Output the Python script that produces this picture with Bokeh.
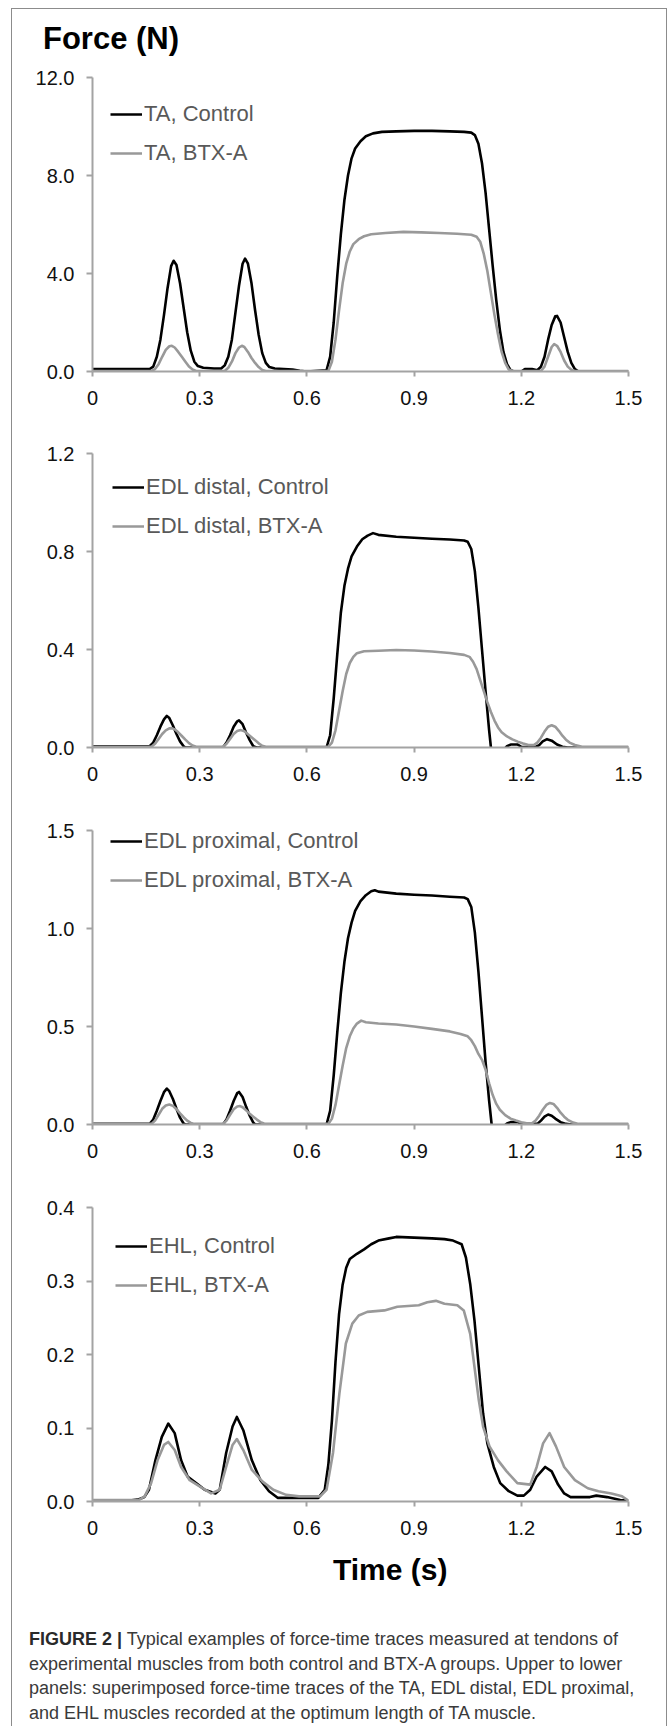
from bokeh.plotting import figure
from bokeh.models import Range1d, FixedTicker, Legend, LegendItem, Div
from bokeh.layouts import column
from bokeh.embed import file_html
from bokeh.resources import INLINE

FONT = "Liberation Sans"
CSS_FONT = "'Liberation Sans', Arial, sans-serif"

# ---------------- data ----------------
X_TICKS = [0, 0.3, 0.6, 0.9, 1.2, 1.5]
X_TICK_LABELS = ["0", "0.3", "0.6", "0.9", "1.2", "1.5"]

# Panel 1 : TA
TA_TICKS = [0, 4, 8, 12]
TA_TICK_LABELS = ["0.0", "4.0", "8.0", "12.0"]
TA_NAMES = ["TA, Control", "TA, BTX-A"]
TA_CTRL_T = [0, 0.16, 0.17, 0.18, 0.19, 0.20, 0.21, 0.22, 0.227, 0.235, 0.245, 0.255, 0.265, 0.275, 0.285,
             0.295, 0.31, 0.34, 0.36, 0.37, 0.38, 0.39, 0.40, 0.41, 0.42, 0.427, 0.435, 0.445, 0.455, 0.465,
             0.475, 0.485, 0.495, 0.51, 0.56, 0.58, 0.60, 0.655, 0.665, 0.675, 0.685, 0.695, 0.705, 0.715,
             0.725, 0.735, 0.75, 0.765, 0.785, 0.81, 0.85, 0.90, 0.95, 1.00, 1.04, 1.06, 1.07, 1.08, 1.09,
             1.10, 1.11, 1.12, 1.13, 1.14, 1.15, 1.16, 1.17, 1.18, 1.20, 1.21, 1.23, 1.245, 1.255, 1.265,
             1.275, 1.285, 1.295, 1.30, 1.31, 1.32, 1.33, 1.34, 1.35, 1.36, 1.5]
TA_CTRL_F = [0.1, 0.1, 0.2, 0.6, 1.3, 2.3, 3.4, 4.3, 4.52, 4.35, 3.6, 2.6, 1.6, 0.85, 0.4,
             0.22, 0.15, 0.12, 0.12, 0.25, 0.6, 1.3, 2.4, 3.5, 4.4, 4.61, 4.4, 3.6, 2.5, 1.5,
             0.75, 0.35, 0.18, 0.12, 0.08, 0.03, 0.0, 0.05, 0.6, 2.0, 3.9, 5.6, 7.0, 8.0,
             8.7, 9.1, 9.4, 9.6, 9.72, 9.78, 9.8, 9.82, 9.82, 9.8, 9.78, 9.75, 9.65, 9.3, 8.5,
             7.3, 5.8, 4.3, 2.9, 1.7, 0.8, 0.3, 0.05, 0.0, 0.0, 0.1, 0.1, 0.05, 0.2, 0.6,
             1.3, 1.9, 2.25, 2.27, 2.0, 1.4, 0.8, 0.35, 0.1, 0.0, 0.0]
TA_BTX_T = [0, 0.165, 0.175, 0.185, 0.195, 0.205, 0.215, 0.222, 0.23, 0.24, 0.25, 0.26, 0.27, 0.28, 0.29,
            0.37, 0.38, 0.39, 0.40, 0.41, 0.418, 0.425, 0.435, 0.445, 0.455, 0.465, 0.475, 0.485, 0.66,
            0.67, 0.68, 0.69, 0.70, 0.71, 0.72, 0.73, 0.745, 0.76, 0.78, 0.82, 0.87, 0.92, 0.97, 1.02,
            1.06, 1.075, 1.085, 1.095, 1.105, 1.115, 1.125, 1.135, 1.145, 1.155, 1.165, 1.175, 1.255,
            1.265, 1.275, 1.285, 1.292, 1.30, 1.31, 1.32, 1.33, 1.34, 1.35, 1.5]
TA_BTX_F = [0.02, 0.02, 0.1, 0.3, 0.6, 0.88, 1.03, 1.05, 0.98, 0.8, 0.6, 0.4, 0.2, 0.08, 0.02,
            0.02, 0.15, 0.4, 0.75, 0.98, 1.05, 1.0, 0.8, 0.55, 0.35, 0.18, 0.06, 0.02, 0.02,
            0.4, 1.3, 2.5, 3.6, 4.4, 4.9, 5.2, 5.4, 5.52, 5.6, 5.65, 5.7, 5.68, 5.65, 5.62,
            5.58, 5.5, 5.3, 4.8, 4.1, 3.2, 2.3, 1.5, 0.8, 0.35, 0.08, 0.02, 0.02,
            0.2, 0.6, 1.0, 1.12, 1.05, 0.8, 0.45, 0.2, 0.07, 0.02, 0.02]

# Panel 2 : EDL distal
EDLD_TICKS = [0, 0.4, 0.8, 1.2]
EDLD_TICK_LABELS = ["0.0", "0.4", "0.8", "1.2"]
EDLD_NAMES = ["EDL distal, Control", "EDL distal, BTX-A"]
EDLD_CTRL_T = [0, 0.16, 0.17, 0.18, 0.19, 0.20, 0.208, 0.215, 0.225, 0.235, 0.245, 0.255, 0.26, 0.365,
               0.375, 0.385, 0.395, 0.405, 0.41, 0.42, 0.43, 0.44, 0.45, 0.46, 0.655, 0.665, 0.675, 0.685,
               0.695, 0.705, 0.715, 0.725, 0.74, 0.755, 0.77, 0.785, 0.80, 0.85, 0.90, 0.95, 1.00, 1.04,
               1.05, 1.06, 1.07, 1.08, 1.09, 1.10, 1.11, 1.115, 1.12, 1.15, 1.16, 1.17, 1.19, 1.20, 1.24,
               1.25, 1.26, 1.272, 1.285, 1.30, 1.315, 1.33, 1.5]
EDLD_CTRL_F = [0.005, 0.005, 0.02, 0.05, 0.085, 0.115, 0.129, 0.12, 0.09, 0.055, 0.025, 0.005, 0.0, 0.0,
               0.02, 0.05, 0.085, 0.107, 0.111, 0.095, 0.06, 0.03, 0.005, 0.0, 0.0, 0.05, 0.2, 0.38,
               0.55, 0.66, 0.73, 0.78, 0.82, 0.85, 0.865, 0.875, 0.868, 0.86, 0.856, 0.852, 0.849, 0.845,
               0.84, 0.81, 0.72, 0.57, 0.4, 0.23, 0.07, 0.0, -0.01, -0.01, 0.005, 0.012, 0.012, 0.003, 0.002,
               0.01, 0.025, 0.034, 0.028, 0.012, 0.003, 0.0, 0.0]
EDLD_BTX_T = [0, 0.165, 0.175, 0.185, 0.195, 0.205, 0.215, 0.222, 0.23, 0.24, 0.25, 0.26, 0.27, 0.28, 0.29,
              0.365, 0.375, 0.385, 0.395, 0.405, 0.415, 0.425, 0.435, 0.445, 0.455, 0.465, 0.475, 0.485,
              0.66, 0.67, 0.68, 0.69, 0.70, 0.71, 0.72, 0.73, 0.74, 0.76, 0.80, 0.85, 0.90, 0.95, 1.00,
              1.04, 1.055, 1.065, 1.075, 1.085, 1.095, 1.105, 1.115, 1.125, 1.135, 1.145, 1.16, 1.175,
              1.19, 1.205, 1.22, 1.235, 1.245, 1.255, 1.265, 1.275, 1.285, 1.295, 1.305, 1.315, 1.325,
              1.335, 1.35, 1.37, 1.5]
EDLD_BTX_F = [0.003, 0.003, 0.015, 0.035, 0.055, 0.07, 0.078, 0.079, 0.074, 0.062, 0.047, 0.032, 0.018, 0.008, 0.003,
              0.003, 0.015, 0.035, 0.055, 0.067, 0.071, 0.066, 0.054, 0.042, 0.03, 0.017, 0.007, 0.003,
              0.003, 0.02, 0.07, 0.15, 0.23, 0.3, 0.345, 0.37, 0.385, 0.393, 0.395, 0.398, 0.396, 0.392, 0.386,
              0.378, 0.37, 0.35, 0.32, 0.275, 0.23, 0.185, 0.145, 0.11, 0.082, 0.062, 0.045, 0.033,
              0.024, 0.016, 0.01, 0.01, 0.02, 0.04, 0.065, 0.085, 0.091, 0.085, 0.068, 0.048, 0.032,
              0.02, 0.01, 0.003, 0.003]

# Panel 3 : EDL proximal
EDLP_TICKS = [0, 0.5, 1.0, 1.5]
EDLP_TICK_LABELS = ["0.0", "0.5", "1.0", "1.5"]
EDLP_NAMES = ["EDL proximal, Control", "EDL proximal, BTX-A"]
EDLP_CTRL_T = [0, 0.16, 0.17, 0.18, 0.19, 0.20, 0.208, 0.215, 0.225, 0.235, 0.245, 0.255, 0.26, 0.365,
               0.375, 0.385, 0.395, 0.405, 0.41, 0.42, 0.43, 0.44, 0.45, 0.455, 0.655, 0.665, 0.675, 0.685,
               0.695, 0.705, 0.715, 0.725, 0.735, 0.75, 0.765, 0.78, 0.79, 0.80, 0.85, 0.90, 0.95, 1.00,
               1.04, 1.05, 1.06, 1.07, 1.08, 1.09, 1.10, 1.11, 1.117, 1.125, 1.15, 1.16, 1.17, 1.19, 1.20,
               1.245, 1.255, 1.265, 1.275, 1.285, 1.295, 1.31, 1.325, 1.34, 1.5]
EDLP_CTRL_F = [0.003, 0.003, 0.025, 0.07, 0.12, 0.165, 0.183, 0.17, 0.13, 0.08, 0.035, 0.005, 0.0, 0.0,
               0.025, 0.07, 0.12, 0.16, 0.166, 0.14, 0.09, 0.045, 0.01, 0.0, 0.0, 0.07, 0.25, 0.47,
               0.67, 0.83, 0.95, 1.03, 1.09, 1.14, 1.17, 1.19, 1.195, 1.188, 1.178, 1.172, 1.168, 1.162,
               1.158, 1.15, 1.11, 0.98, 0.78, 0.55, 0.32, 0.12, 0.0, -0.01, -0.01, 0.005, 0.012, 0.012, 0.003,
               0.003, 0.02, 0.04, 0.051, 0.045, 0.03, 0.012, 0.003, 0.0, 0.0]
EDLP_BTX_T = [0, 0.165, 0.175, 0.185, 0.195, 0.205, 0.215, 0.225, 0.235, 0.245, 0.255, 0.265, 0.275, 0.285,
              0.365, 0.375, 0.385, 0.395, 0.405, 0.413, 0.42, 0.43, 0.44, 0.45, 0.46, 0.47, 0.48, 0.49,
              0.66, 0.67, 0.68, 0.69, 0.70, 0.71, 0.72, 0.73, 0.74, 0.752, 0.765, 0.80, 0.85, 0.90, 0.95,
              1.00, 1.03, 1.05, 1.06, 1.07, 1.08, 1.09, 1.10, 1.11, 1.12, 1.13, 1.14, 1.155, 1.17, 1.185,
              1.20, 1.215, 1.23, 1.24, 1.25, 1.26, 1.27, 1.28, 1.29, 1.30, 1.31, 1.32, 1.33, 1.345, 1.36, 1.5]
EDLP_BTX_F = [0.003, 0.003, 0.02, 0.05, 0.08, 0.097, 0.102, 0.095, 0.078, 0.057, 0.037, 0.02, 0.008, 0.003,
              0.003, 0.02, 0.05, 0.078, 0.092, 0.094, 0.088, 0.072, 0.055, 0.04, 0.025, 0.012, 0.005, 0.003,
              0.003, 0.03, 0.1, 0.2, 0.3, 0.39, 0.45, 0.49, 0.515, 0.53, 0.522, 0.515, 0.51, 0.5, 0.488,
              0.475, 0.462, 0.45, 0.43, 0.4, 0.36, 0.33, 0.28, 0.21, 0.15, 0.105, 0.075, 0.048, 0.03, 0.02,
              0.012, 0.006, 0.006, 0.02, 0.045, 0.075, 0.1, 0.11, 0.105, 0.085, 0.06, 0.04, 0.024, 0.01, 0.003, 0.003]

# Panel 4 : EHL
EHL_TICKS = [0, 0.1, 0.2, 0.3, 0.4]
EHL_TICK_LABELS = ["0.0", "0.1", "0.2", "0.3", "0.4"]
EHL_NAMES = ["EHL, Control", "EHL, BTX-A"]
EHL_CTRL_T = [0, 0.10, 0.13, 0.145, 0.158, 0.176, 0.194, 0.212, 0.23, 0.248, 0.266, 0.29, 0.314, 0.344,
              0.356, 0.374, 0.392, 0.404, 0.422, 0.446, 0.47, 0.494, 0.518, 0.554, 0.632, 0.65, 0.66, 0.67,
              0.68, 0.69, 0.70, 0.71, 0.72, 0.74, 0.76, 0.78, 0.80, 0.83, 0.85, 0.90, 0.95, 0.985, 1.009,
              1.033, 1.045, 1.057, 1.069, 1.081, 1.093, 1.105, 1.123, 1.141, 1.165, 1.189, 1.207, 1.225,
              1.243, 1.267, 1.285, 1.303, 1.32, 1.338, 1.392, 1.41, 1.44, 1.477, 1.5]
EHL_CTRL_F = [0.001, 0.001, 0.003, 0.006, 0.016, 0.056, 0.088, 0.106, 0.093, 0.056, 0.034, 0.025, 0.016, 0.011,
              0.016, 0.066, 0.102, 0.115, 0.097, 0.056, 0.029, 0.014, 0.005, 0.005, 0.005, 0.016, 0.05, 0.11,
              0.19, 0.255, 0.295, 0.318, 0.33, 0.337, 0.343, 0.35, 0.355, 0.358, 0.36, 0.359, 0.358, 0.357, 0.355,
              0.35, 0.332, 0.296, 0.246, 0.183, 0.12, 0.079, 0.047, 0.025, 0.014, 0.008, 0.008, 0.016,
              0.034, 0.047, 0.041, 0.023, 0.011, 0.006, 0.006, 0.008, 0.006, 0.002, 0.001]
EHL_BTX_T = [0, 0.13, 0.146, 0.164, 0.182, 0.2, 0.212, 0.23, 0.248, 0.272, 0.302, 0.332, 0.356, 0.374,
             0.392, 0.404, 0.422, 0.446, 0.476, 0.506, 0.542, 0.578, 0.637, 0.655, 0.673, 0.691, 0.709,
             0.727, 0.745, 0.769, 0.817, 0.853, 0.913, 0.937, 0.961, 0.985, 1.021, 1.039, 1.057, 1.069,
             1.081, 1.093, 1.111, 1.135, 1.159, 1.189, 1.225, 1.243, 1.261, 1.279, 1.297, 1.32, 1.35,
             1.386, 1.416, 1.452, 1.482, 1.5]
EHL_BTX_F = [0.002, 0.002, 0.007, 0.025, 0.056, 0.077, 0.081, 0.07, 0.047, 0.029, 0.02, 0.011, 0.016, 0.047,
             0.077, 0.085, 0.07, 0.043, 0.027, 0.016, 0.009, 0.007, 0.007, 0.016, 0.066, 0.147, 0.215,
             0.242, 0.253, 0.258, 0.26, 0.265, 0.267, 0.271, 0.273, 0.269, 0.267, 0.26, 0.228, 0.183,
             0.138, 0.102, 0.075, 0.056, 0.041, 0.025, 0.023, 0.047, 0.079, 0.093, 0.075, 0.047, 0.029,
             0.018, 0.014, 0.011, 0.007, 0.001]

Y_TITLE = "Force (N)"
X_TITLE = "Time (s)"
CAPTION_BOLD = "FIGURE 2 |"
CAPTION_LINES = [
    "Typical examples of force-time traces measured at tendons of",
    "experimental muscles from both control and BTX-A groups. Upper to lower",
    "panels: superimposed force-time traces of the TA, EDL distal, EDL proximal,",
    "and EHL muscles recorded at the optimum length of TA muscle.",
]

# ---------------- layout constants ----------------
FW, FH = 536, 294
LEFT, RIGHT = 80, 38
CANVAS_W = LEFT + FW + RIGHT      # 654
AXIS_GRAY = "#a3a3a3"
CTRL_COLOR = "black"
BTX_COLOR = "#999999"


def make_panel(ct, cf, bt, bf, ymax, yticks, ylabels, names, top, bottom, leg_x, leg_c1):
    p = figure(frame_width=FW, frame_height=FH, min_border_left=LEFT, min_border_right=RIGHT,
               min_border_top=top, min_border_bottom=bottom,
               x_range=Range1d(0, 1.5), y_range=Range1d(0, ymax),
               output_backend="svg", toolbar_location=None)
    p.outline_line_color = None
    p.grid.visible = False
    p.background_fill_color = "white"
    p.border_fill_color = "white"

    r1 = p.line(ct, cf, line_color=CTRL_COLOR, line_width=2.6, line_join="round")
    r2 = p.line(bt, bf, line_color=BTX_COLOR, line_width=2.6, line_join="round")

    for ax in (p.xaxis[0], p.yaxis[0]):
        ax.axis_line_color = AXIS_GRAY
        ax.axis_line_width = 2
        ax.major_tick_line_color = AXIS_GRAY
        ax.major_tick_line_width = 2
        ax.minor_tick_line_color = None
        ax.major_tick_in = 0
        ax.major_label_text_font = FONT
        ax.major_label_text_font_size = "20px"
        ax.major_label_text_color = "#111111"
    p.xaxis.major_tick_out = 5
    p.xaxis.major_label_standoff = 14
    p.yaxis.major_tick_out = 6
    p.yaxis.major_label_standoff = 12
    p.xaxis.ticker = FixedTicker(ticks=X_TICKS)
    p.xaxis.major_label_overrides = {t: l for t, l in zip(X_TICKS, X_TICK_LABELS)}
    p.yaxis.ticker = FixedTicker(ticks=yticks)
    p.yaxis.major_label_overrides = {t: l for t, l in zip(yticks, ylabels)}

    item_h, spacing = 26, 13
    leg_h = 2 * item_h + spacing
    vy = FH - (leg_c1 - item_h / 2) - leg_h
    legend = Legend(items=[LegendItem(label=names[0], renderers=[r1]),
                           LegendItem(label=names[1], renderers=[r2])],
                    location=(leg_x, vy), padding=0, margin=0, spacing=spacing,
                    glyph_width=32, glyph_height=item_h, label_height=item_h, label_standoff=2,
                    label_text_font=FONT, label_text_font_size="22px", label_text_color="#595959",
                    border_line_color=None, background_fill_alpha=0)
    p.add_layout(legend)
    return p


# header with the y title
head = Div(width=CANVAS_W, height=55, margin=0,
           text=(f'<div style="margin:0;padding:13.8px 0 0 31px;font-family:{CSS_FONT};'
                 f'font-weight:bold;font-size:31px;line-height:31px;color:#000;white-space:nowrap;">'
                 f'{Y_TITLE}</div>'))

p1 = make_panel(TA_CTRL_T, TA_CTRL_F, TA_BTX_T, TA_BTX_F, 12, TA_TICKS, TA_TICK_LABELS, TA_NAMES,
                13, 52, 18, 37)
p2 = make_panel(EDLD_CTRL_T, EDLD_CTRL_F, EDLD_BTX_T, EDLD_BTX_F, 1.2, EDLD_TICKS, EDLD_TICK_LABELS,
                EDLD_NAMES, 30, 52, 20, 34)
p3 = make_panel(EDLP_CTRL_T, EDLP_CTRL_F, EDLP_BTX_T, EDLP_BTX_F, 1.5, EDLP_TICKS, EDLP_TICK_LABELS,
                EDLP_NAMES, 31, 53, 18, 11)
p4 = make_panel(EHL_CTRL_T, EHL_CTRL_F, EHL_BTX_T, EHL_BTX_F, 0.4, EHL_TICKS, EHL_TICK_LABELS,
                EHL_NAMES, 30, 45, 23, 39)

# footer with x title and caption
caption_html = (f'<b style="color:#2a2a2a">{CAPTION_BOLD}</b> ' + CAPTION_LINES[0] + '<br>'
                + '<br>'.join(CAPTION_LINES[1:]))
foot = Div(width=CANVAS_W, height=180, margin=0,
           text=(f'<div style="margin:0;padding:8.6px 0 0 321px;font-family:{CSS_FONT};'
                 f'font-weight:bold;font-size:30px;line-height:30px;color:#000;white-space:nowrap;">'
                 f'{X_TITLE}</div>'
                 f'<div style="margin:0;padding:42.9px 0 0 17px;font-family:{CSS_FONT};'
                 f'font-size:18px;line-height:24.5px;color:#3a3a3a;white-space:nowrap;">'
                 f'{caption_html}</div>'))

layout = column(head, p1, p2, p3, p4, foot, spacing=0,
                styles={"margin": "8px 0px 0px 11px", "border": "1px solid #8c8c8c",
                        "border-bottom": "none", "background-color": "white"})
open("out.html", "w").write(file_html(layout, INLINE))
